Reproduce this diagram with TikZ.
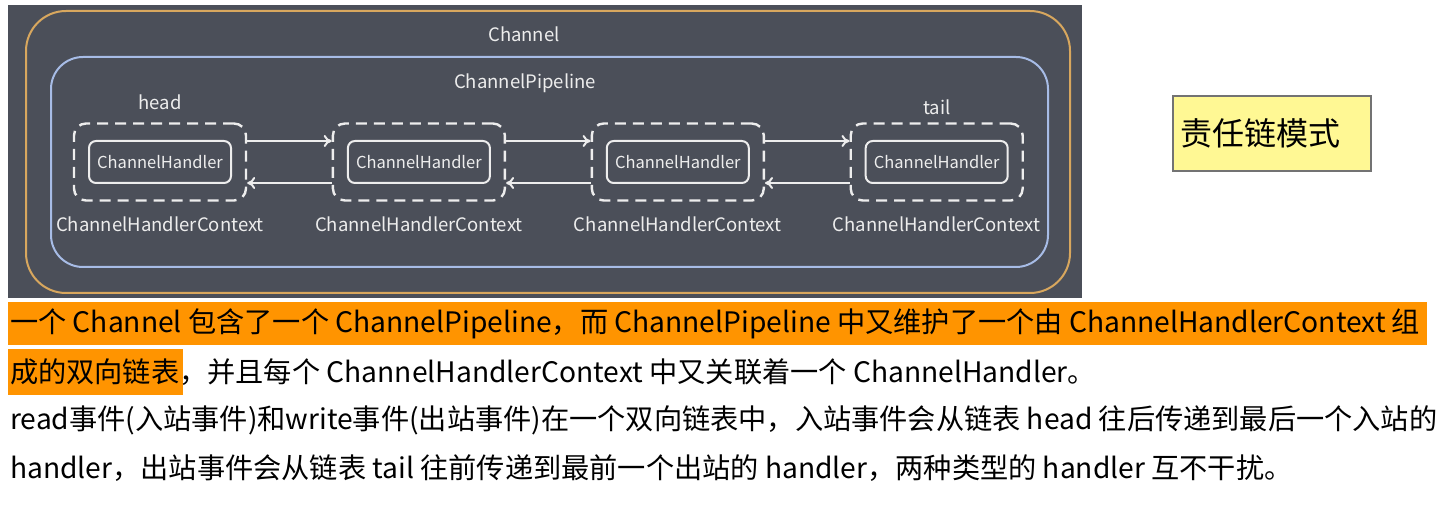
\documentclass[tikz,border=0pt]{standalone}
\usepackage{fontspec}
\setmainfont{Noto Sans CJK SC}
\usetikzlibrary{arrows.meta,positioning}
\definecolor{panelbg}{HTML}{4B4F59}
\definecolor{chanline}{HTML}{D8A75E}
\definecolor{pipeline}{HTML}{A7BCE6}
\definecolor{lbl}{HTML}{EDEDED}
\definecolor{notebg}{HTML}{FFF894}
\definecolor{hilite}{HTML}{FF9400}

\begin{document}
\begin{tikzpicture}[x=1pt,y=-1pt,
  ctx/.style={draw=lbl,dash pattern=on 11pt off 7pt,line width=2.4pt,
              rounded corners=12pt,minimum width=172pt,minimum height=77pt},
  hdl/.style={draw=lbl,line width=2pt,rounded corners=7pt,minimum width=142pt,
              minimum height=42pt,text=lbl,font=\fontsize{16.5}{20}\selectfont},
  lbltext/.style={text=lbl,font=\fontsize{18.5}{22}\selectfont},
  arr/.style={-{To[length=8pt,width=12pt]},line width=2pt,draw=lbl},
  para/.style={anchor=west,inner sep=0pt,font=\fontsize{28.2}{32}\selectfont}]
  \useasboundingbox (0,0) rectangle (1456,510);
  \fill[panelbg] (8,5) rectangle (1082,298);
  % containers
  \node[draw=chanline,line width=2pt,rounded corners=40pt,minimum width=1044pt,
        minimum height=282pt] (channel) at (548,152) {};
  \node[draw=pipeline,line width=2pt,rounded corners=32pt,minimum width=997pt,
        minimum height=210pt] (pipe) at (549.5,162) {};
  \node[lbltext] (chanlbl) at (524,34) {Channel};
  \node[lbltext] (pipelbl) at (525,83) {ChannelPipeline};
  % contexts and handlers
  \node[ctx] (cx1) at (160,162) {};
  \node[ctx,right=84.5pt of cx1] (cx2) {};
  \node[ctx,right=84.5pt of cx2] (cx3) {};
  \node[ctx,right=84.5pt of cx3] (cx4) {};
  \foreach \i in {1,...,4}{
    \node[hdl] (hd\i) at (cx\i) {ChannelHandler};
    \node[lbltext,below=12pt of cx\i] (cl\i) {ChannelHandlerContext};
  }
  \node[lbltext,above=9pt of cx1] (head) {head};
  \node[lbltext,above=4pt of cx4] (tail) {tail};
  \foreach \a/\b in {1/2,2/3,3/4}{
    \draw[arr] ([yshift=21pt]cx\a.east) -- ([yshift=21pt]cx\b.west);
    \draw[arr] ([yshift=-21pt]cx\b.west) -- ([yshift=-21pt]cx\a.east);
  }
  % note
  \node[draw=black!55,line width=1.2pt,fill=notebg,minimum width=198pt,minimum height=75pt,
        text width=184pt,align=left,font=\fontsize{32}{38}\selectfont] (note) at (1272,133.5) {责任链模式};
  % description
  \fill[hilite] (8,302) rectangle (1427,345);
  \fill[hilite] (8,349) rectangle (183,395);
  \node[para] (t1) at (10,324) {一个 Channel 包含了一个 ChannelPipeline，而 ChannelPipeline 中又维护了一个由 ChannelHandlerContext 组};
  \node[para] (t2) at (10,372) {成的双向链表，并且每个 ChannelHandlerContext 中又关联着一个 ChannelHandler。};
  \node[para] (t3) at (10,420) {read事件(入站事件)和write事件(出站事件)在一个双向链表中，入站事件会从链表 head 往后传递到最后一个入站的};
  \node[para] (t4) at (10,468) {handler，出站事件会从链表 tail 往前传递到最前一个出站的 handler，两种类型的 handler 互不干扰。};
\end{tikzpicture}
\end{document}
